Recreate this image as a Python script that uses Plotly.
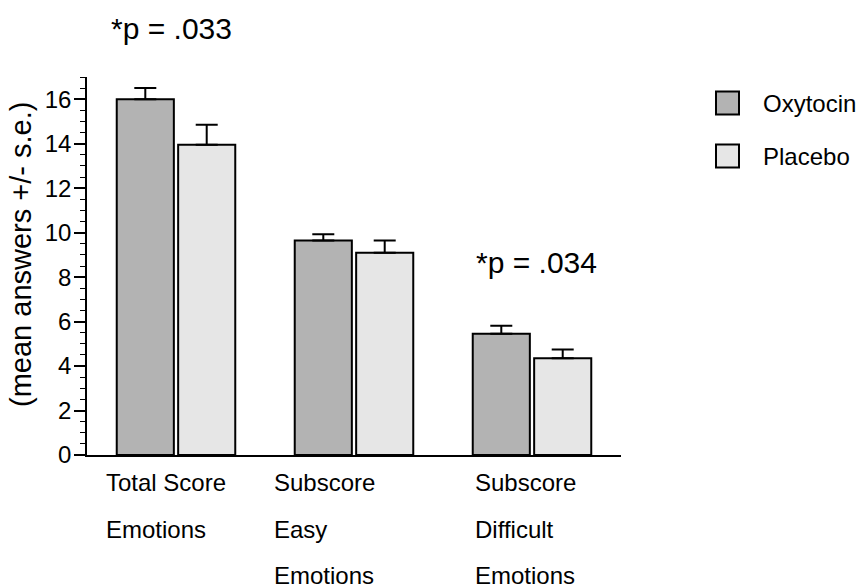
import plotly.graph_objects as go

# Reading the Mind in the Eyes test: oxytocin vs placebo
categories = ["Total Score Emotions", "Subscore Easy Emotions", "Subscore Difficult Emotions"]
category_lines = [["Total Score", "Emotions"],
                  ["Subscore", "Easy", "Emotions"],
                  ["Subscore", "Difficult", "Emotions"]]
oxytocin_mean = [16.0, 9.65, 5.45]
oxytocin_se = [0.5, 0.28, 0.36]
placebo_mean = [13.95, 9.1, 4.35]
placebo_se = [0.9, 0.55, 0.4]
series_names = ["Oxytocin", "Placebo"]
series_colors = ["#b3b3b3", "#e6e6e6"]
p_labels = ["*p = .033", None, "*p = .034"]

FONT = "Liberation Sans, Arial, sans-serif"
W, H = 861, 588
L, R, T, B = 87, 240, 77, 133
YMAX = 17


def px_x(px):
    return (px - L) / (W - L - R)


def px_y(py):
    return (H - B - py) / (H - T - B)


fig = go.Figure()
for name, means, ses, color in zip(series_names, [oxytocin_mean, placebo_mean],
                                   [oxytocin_se, placebo_se], series_colors):
    fig.add_trace(go.Bar(
        name=name, x=categories, y=means,
        marker=dict(color=color, line=dict(color="black", width=2)),
        error_y=dict(type="data", array=ses, arrayminus=[0] * len(ses), symmetric=False,
                     color="black", thickness=2, width=11),
        showlegend=False,
    ))

fig.update_layout(
    width=W, height=H,
    margin=dict(l=L, r=R, t=T, b=B),
    plot_bgcolor="white", paper_bgcolor="white",
    barmode="group", bargap=0.31, bargroupgap=0.07,
    font=dict(family=FONT, size=24, color="black"),
)
fig.update_xaxes(
    showticklabels=False, ticks="", showline=True, linecolor="black", linewidth=1.5,
    showgrid=False, range=[-0.5, 2.5],
)
fig.update_yaxes(
    range=[0, YMAX], tickmode="array", tickvals=list(range(0, 17, 2)),
    ticks="outside", ticklen=11, tickwidth=1.5, tickcolor="black",
    showline=True, linecolor="black", linewidth=1.5, showgrid=False, zeroline=False,
    minor=dict(tickmode="array", tickvals=[v / 2 for v in range(0, 35) if v % 4 != 0],
               ticks="outside", ticklen=5, tickwidth=1.2, tickcolor="black"),
    tickfont=dict(size=24), ticklabelstandoff=-2,
)

# Y axis title
fig.add_annotation(
    text="(mean answers +/- s.e.)", textangle=-90,
    xref="paper", yref="paper", x=px_x(21), y=px_y(255),
    showarrow=False, font=dict(size=29), xanchor="center", yanchor="middle",
)

# Category labels, left aligned, one annotation per line
label_shift = [-72, -82, -59]
line_y = [483, 529, 575]
for i, lines in enumerate(category_lines):
    for j, text in enumerate(lines):
        fig.add_annotation(
            text=text, xref="x", yref="paper", x=categories[i],
            y=px_y(line_y[j]), xshift=label_shift[i],
            showarrow=False, xanchor="left", yanchor="middle", font=dict(size=24),
        )

# Significance labels above the tested groups
p_label_py = [28, None, 262]
p_label_shift = [-5, 0, 4]
for i, (txt, py) in enumerate(zip(p_labels, p_label_py)):
    if txt:
        fig.add_annotation(text=txt, xref="x", yref="paper", x=categories[i], y=px_y(py),
                           xshift=p_label_shift[i],
                           showarrow=False, xanchor="center", yanchor="middle",
                           font=dict(size=30))

# Legend drawn as swatches with labels
legend_y = [103, 156]
for name, color, cy in zip(series_names, series_colors, legend_y):
    fig.add_shape(type="rect", xref="paper", yref="paper",
                  x0=px_x(716), x1=px_x(739), y0=px_y(cy + 11.5), y1=px_y(cy - 11.5),
                  fillcolor=color, line=dict(color="black", width=2))
    fig.add_annotation(text=name, xref="paper", yref="paper", x=px_x(761), y=px_y(cy),
                       showarrow=False, xanchor="left", yanchor="middle", font=dict(size=24))

fig.write_html("out.html")
